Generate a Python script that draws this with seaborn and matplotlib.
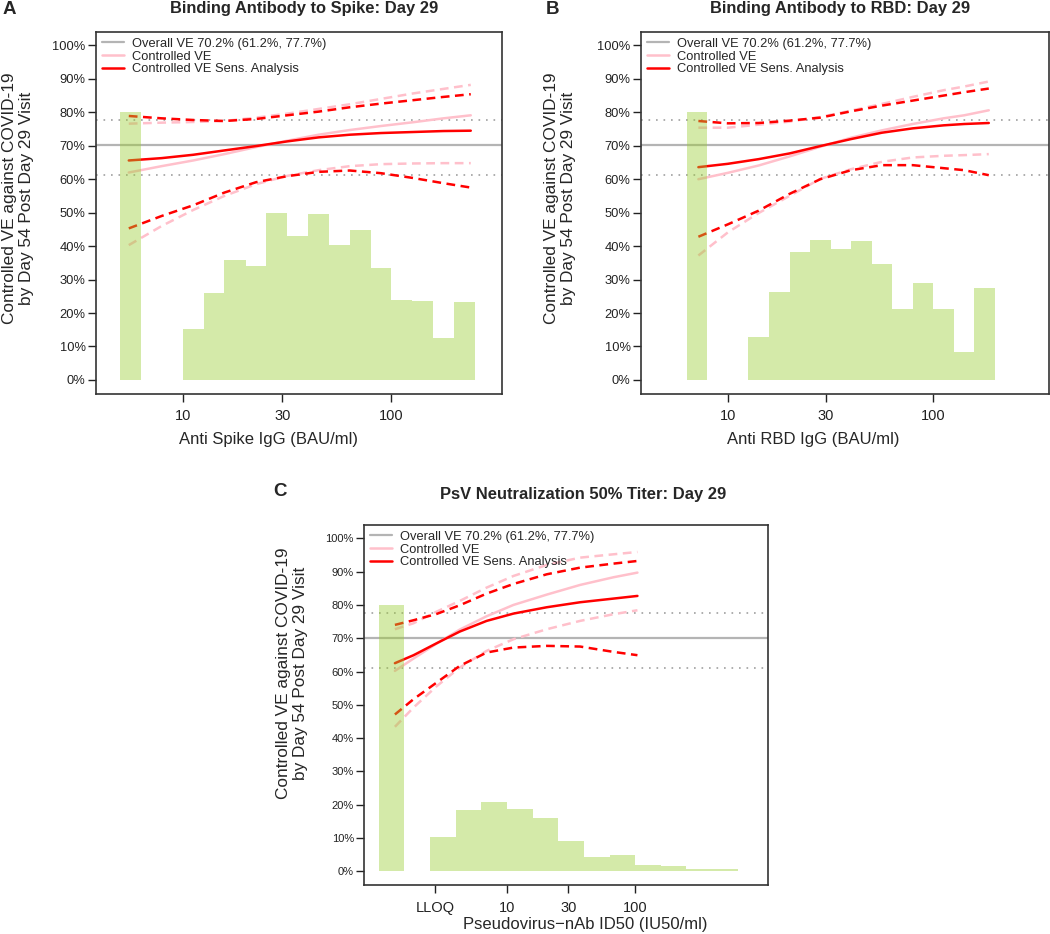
import matplotlib
matplotlib.use("Agg")
import matplotlib.pyplot as plt
from matplotlib.ticker import NullLocator, FixedLocator, FixedFormatter
import seaborn as sns

sns.set_theme(style="white")
plt.rcParams['font.family'] = ['Liberation Sans', 'DejaVu Sans']

#========= Panel A: Spike IgG =========#
a_x = [5.5, 7.9, 11.2, 15.8, 22.4, 31.6, 44.7, 63.1, 89.1, 125.9, 177.8, 240.0]
a_ctl = [62.0, 63.9, 65.6, 67.5, 69.6, 71.5, 73.3, 74.7, 75.9, 77.0, 78.2, 79.1]
a_ctl_hi = [76.6, 76.9, 77.1, 77.4, 78.4, 79.6, 81.0, 82.4, 84.0, 85.6, 87.0, 88.2]
a_ctl_lo = [40.3, 46.0, 50.8, 55.0, 58.5, 61.0, 62.7, 63.9, 64.5, 64.7, 64.8, 64.8]
a_sens = [65.6, 66.3, 67.3, 68.6, 69.9, 71.3, 72.5, 73.3, 73.8, 74.1, 74.4, 74.5]
a_sens_hi = [78.9, 78.2, 77.7, 77.4, 78.0, 79.1, 80.2, 81.5, 82.6, 83.6, 84.6, 85.4]
a_sens_lo = [45.3, 49.0, 52.2, 56.0, 59.1, 60.9, 62.2, 62.6, 61.8, 60.4, 58.8, 57.5]
a_edges = [5.0, 6.3, 7.9, 10, 12.6, 15.8, 20.0, 25.1, 31.6, 39.8, 50.1, 63.1,
           79.4, 100, 125.9, 158.5, 199.5, 251.2]
a_hist = [80, 0, 0, 15.2, 26.0, 36.0, 34.2, 49.9, 43.1, 49.5, 40.4, 44.7,
          33.6, 24.0, 23.6, 12.4, 23.4]

#========= Panel B: RBD IgG =========#
b_x = [7.19, 10.0, 14.13, 19.95, 28.18, 39.81, 56.23, 79.43, 112.2, 141.3, 186.2]
b_ctl = [60.0, 61.9, 64.1, 66.8, 69.7, 72.4, 74.6, 76.5, 78.2, 79.1, 80.6]
b_ctl_hi = [75.4, 75.4, 76.3, 77.2, 78.6, 80.5, 82.5, 84.6, 86.6, 87.7, 89.2]
b_ctl_lo = [37.2, 44.1, 49.9, 55.0, 60.1, 63.0, 65.2, 66.5, 67.0, 67.2, 67.5]
b_sens = [63.6, 64.6, 66.0, 67.7, 69.9, 72.0, 73.9, 75.2, 76.1, 76.5, 76.8]
b_sens_hi = [77.4, 76.7, 76.8, 77.5, 78.4, 80.3, 82.0, 83.5, 85.0, 86.0, 87.1]
b_sens_lo = [42.8, 46.5, 50.6, 55.6, 60.0, 62.7, 64.2, 64.2, 63.3, 62.7, 61.2]
b_edges = [6.3, 7.9, 10, 12.6, 15.8, 20.0, 25.1, 31.6, 39.8, 50.1, 63.1,
           79.4, 100, 125.9, 158.5, 199.5]
b_hist = [80, 0, 0, 12.7, 26.4, 38.1, 41.8, 39.0, 41.5, 34.8, 21.2, 29.0,
          21.1, 8.4, 27.5]

#========= Panel C: PsV ID50 =========#
c_x = [1.33, 1.86, 2.82, 4.27, 6.92, 11.22, 20.42, 37.15, 67.61, 104.2]
c_ctl = [60.2, 63.9, 68.4, 72.6, 76.6, 80.0, 83.1, 86.0, 88.3, 89.7]
c_ctl_hi = [72.7, 74.5, 78.0, 81.2, 85.2, 88.7, 92.0, 94.2, 95.2, 95.9]
c_ctl_lo = [43.4, 49.2, 55.6, 61.2, 66.2, 69.7, 72.7, 75.2, 77.2, 78.4]
c_sens = [62.5, 64.9, 68.5, 72.0, 75.2, 77.4, 79.3, 80.8, 81.9, 82.7]
c_sens_hi = [74.0, 75.4, 77.3, 79.9, 83.4, 86.3, 89.2, 91.2, 92.4, 93.2]
c_sens_lo = [47.1, 51.7, 56.7, 61.7, 65.7, 67.2, 67.7, 67.5, 65.9, 64.9]
c_edges = [1.0, 1.58, 2.51, 3.98, 6.31, 10.0, 15.85, 25.12, 39.81, 63.1,
           100, 158.5, 251.2, 398.1, 631.0]
c_hist = [80, 0, 10.4, 18.4, 20.7, 18.7, 15.9, 9.2, 4.2, 4.8, 1.9, 1.5, 0.6, 0.8]

overall_ve = 70.2
overall_lo = 61.2
overall_hi = 77.7
y_ticks = [0, 10, 20, 30, 40, 50, 60, 70, 80, 90, 100]
y_ticklabels = [f"{t}%" for t in y_ticks]

W, H = 1050, 934
fig = plt.figure(figsize=(W / 100, H / 100), dpi=100)

dash = (0, (3.5, 2.2))
green = "#9acd32"


def draw_panel(ax, x, ctl, ctl_hi, ctl_lo, sens, sens_hi, sens_lo, edges, hist,
               xlim, xticks, xticklabels, ytick_size):
    ax.set_xscale("log")
    ax.axhline(overall_ve, color="#b4b4b4", lw=1.6, zorder=1,
               label="Overall VE 70.2% (61.2%, 77.7%)")
    sns.lineplot(x=x, y=ctl, color="#ffc0cb", lw=1.8, ax=ax, label="Controlled VE")
    sns.lineplot(x=x, y=sens, color="#ff0000", lw=1.8, ax=ax,
                 label="Controlled VE Sens. Analysis")
    for yy in (overall_lo, overall_hi):
        ax.axhline(yy, color="#a0a0a0", lw=1.2, ls=(0, (1, 3.5)), zorder=1)
    sns.lineplot(x=x, y=ctl_hi, color="#ffc0cb", lw=1.8, ls=dash, ax=ax)
    sns.lineplot(x=x, y=ctl_lo, color="#ffc0cb", lw=1.8, ls=dash, ax=ax)
    sns.lineplot(x=x, y=sens_hi, color="#ff0000", lw=1.8, ls=dash, ax=ax)
    sns.lineplot(x=x, y=sens_lo, color="#ff0000", lw=1.8, ls=dash, ax=ax)
    # histogram of the marker, drawn over the curves (transparent)
    lefts = edges[:-1]
    widths = [edges[i + 1] - edges[i] for i in range(len(edges) - 1)]
    ax.bar(lefts, hist, width=widths, align="edge", color=green, alpha=0.42,
           linewidth=0, zorder=3)
    ax.set_xlim(*xlim)
    ax.set_ylim(-4.2, 104)
    ax.xaxis.set_major_locator(FixedLocator(xticks))
    ax.xaxis.set_major_formatter(FixedFormatter(xticklabels))
    ax.xaxis.set_minor_locator(NullLocator())
    ax.set_yticks(y_ticks)
    ax.set_yticklabels(y_ticklabels)
    ax.tick_params(axis="y", left=True, length=6, width=1, pad=1.5,
                   labelsize=ytick_size, colors="#222222")
    ax.tick_params(axis="x", bottom=True, length=6, width=1, pad=5,
                   labelsize=10.5, colors="#222222")
    for s in ax.spines.values():
        s.set_color("#333333")
        s.set_linewidth(1.2)
    ax.legend(loc="upper left", frameon=False, fontsize=9.3, handlelength=1.7,
              handletextpad=0.6, labelspacing=0.05, borderaxespad=0.2,
              borderpad=0.25)
    ax.set_ylabel("Controlled VE against COVID-19\nby Day 54 Post Day 29 Visit",
                  fontsize=12.4, linespacing=1.16)
    ax.yaxis.label.set_va("center")


ax_a = fig.add_axes([96 / W, 1 - 394 / H, 406 / W, 362 / H])
draw_panel(ax_a, a_x, a_ctl, a_ctl_hi, a_ctl_lo, a_sens, a_sens_hi, a_sens_lo,
           a_edges, a_hist, (3.83, 338.8), [10, 30, 100], ["10", "30", "100"], 9.3)
ax_a.set_xlabel("Anti Spike IgG (BAU/ml)", fontsize=12)
ax_a.xaxis.label.set_va("center")
ax_a.xaxis.set_label_coords(0.424, -0.127)
ax_a.yaxis.set_label_coords(-0.192, 0.541)

ax_b = fig.add_axes([641 / W, 1 - 394 / H, 408 / W, 362 / H])
draw_panel(ax_b, b_x, b_ctl, b_ctl_hi, b_ctl_lo, b_sens, b_sens_hi, b_sens_lo,
           b_edges, b_hist, (3.78, 365.6), [10, 30, 100], ["10", "30", "100"], 9.3)
ax_b.set_xlabel("Anti RBD IgG (BAU/ml)", fontsize=12)
ax_b.xaxis.label.set_va("center")
ax_b.xaxis.set_label_coords(0.422, -0.127)
ax_b.yaxis.set_label_coords(-0.199, 0.541)

ax_c = fig.add_axes([364.3 / W, 1 - 885.3 / H, 404 / W, 360.3 / H])
draw_panel(ax_c, c_x, c_ctl, c_ctl_hi, c_ctl_lo, c_sens, c_sens_hi, c_sens_lo,
           c_edges, c_hist, (0.767, 1096), [2.74, 10, 30, 100],
           ["LLOQ", "10", "30", "100"], 8)
ax_c.set_xlabel("Pseudovirus\u2212nAb ID50 (IU50/ml)", fontsize=12)
ax_c.xaxis.label.set_va("center")
ax_c.xaxis.set_label_coords(0.546, -0.110)
ax_c.yaxis.set_label_coords(-0.179, 0.589)

# panel letters and titles
fig.text(3 / W, 1 - 9 / H, "A", fontsize=13.5, fontweight="bold", va="center", ha="left")
fig.text(304 / W, 1 - 8 / H, "Binding Antibody to Spike: Day 29", fontsize=11.9,
         fontweight="bold", va="center", ha="center")
fig.text(546 / W, 1 - 9 / H, "B", fontsize=13.5, fontweight="bold", va="center", ha="left")
fig.text(840 / W, 1 - 8 / H, "Binding Antibody to RBD: Day 29", fontsize=11.9,
         fontweight="bold", va="center", ha="center")
fig.text(273 / W, 1 - 491 / H, "C", fontsize=13.5, fontweight="bold", va="center", ha="left")
fig.text(583 / W, 1 - 495 / H, "PsV Neutralization 50% Titer: Day 29", fontsize=11.9,
         fontweight="bold", va="center", ha="center")

fig.savefig("out.png", dpi=100)
